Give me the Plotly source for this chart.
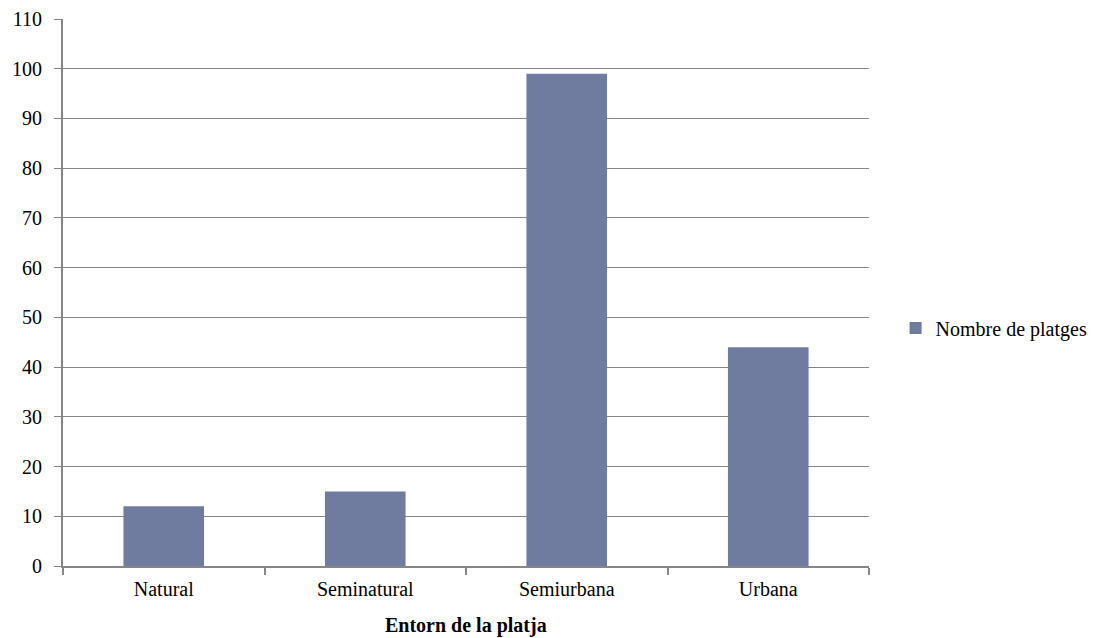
import plotly.graph_objects as go

categories = ["Natural", "Seminatural", "Semiurbana", "Urbana"]
platges = [12, 15, 99, 44]
y_ticks = [0, 10, 20, 30, 40, 50, 60, 70, 80, 90, 100, 110]
x_title = "Entorn de la platja"

axis_grey = "#868686"
font_family = "Liberation Serif, Times New Roman, serif"

fig = go.Figure(
    go.Bar(
        x=categories,
        y=platges,
        name="Nombre de platges",
        marker=dict(color="#707BA0", line=dict(width=0)),
        width=0.4,
        showlegend=True,
    )
)

fig.update_layout(
    width=1106,
    height=638,
    margin=dict(l=63, r=237, t=19, b=72, autoexpand=False),
    paper_bgcolor="white",
    plot_bgcolor="white",
    font=dict(family=font_family, size=20, color="black"),
    bargap=0.6,
    legend=dict(
        x=1.033,
        y=0.435,
        xanchor="left",
        yanchor="middle",
        font=dict(size=20),
        itemwidth=30,
    ),
    xaxis=dict(
        type="category",
        automargin=False,
        tickson="boundaries",
        ticks="outside",
        ticklen=7,
        tickcolor=axis_grey,
        tickwidth=1.5,
        showline=True,
        linecolor=axis_grey,
        linewidth=1.5,
        showgrid=False,
        tickfont=dict(size=20),
        ticklabelstandoff=4,
    ),
    yaxis=dict(
        range=[0, 110],
        automargin=False,
        tickvals=y_ticks,
        ticks="outside",
        ticklen=7,
        tickcolor=axis_grey,
        showline=True,
        linecolor=axis_grey,
        linewidth=2,
        showgrid=True,
        gridcolor=axis_grey,
        gridwidth=1,
        zeroline=False,
        tickfont=dict(size=20),
        ticklabelstandoff=8,
    ),
    annotations=[
        dict(
            text=f"<b>{x_title}</b>",
            xref="paper",
            yref="paper",
            x=0.5,
            y=0,
            xanchor="center",
            yanchor="bottom",
            yshift=-72,
            showarrow=False,
            font=dict(size=20),
            borderpad=0,
        )
    ],
)

fig.write_html("out.html")
